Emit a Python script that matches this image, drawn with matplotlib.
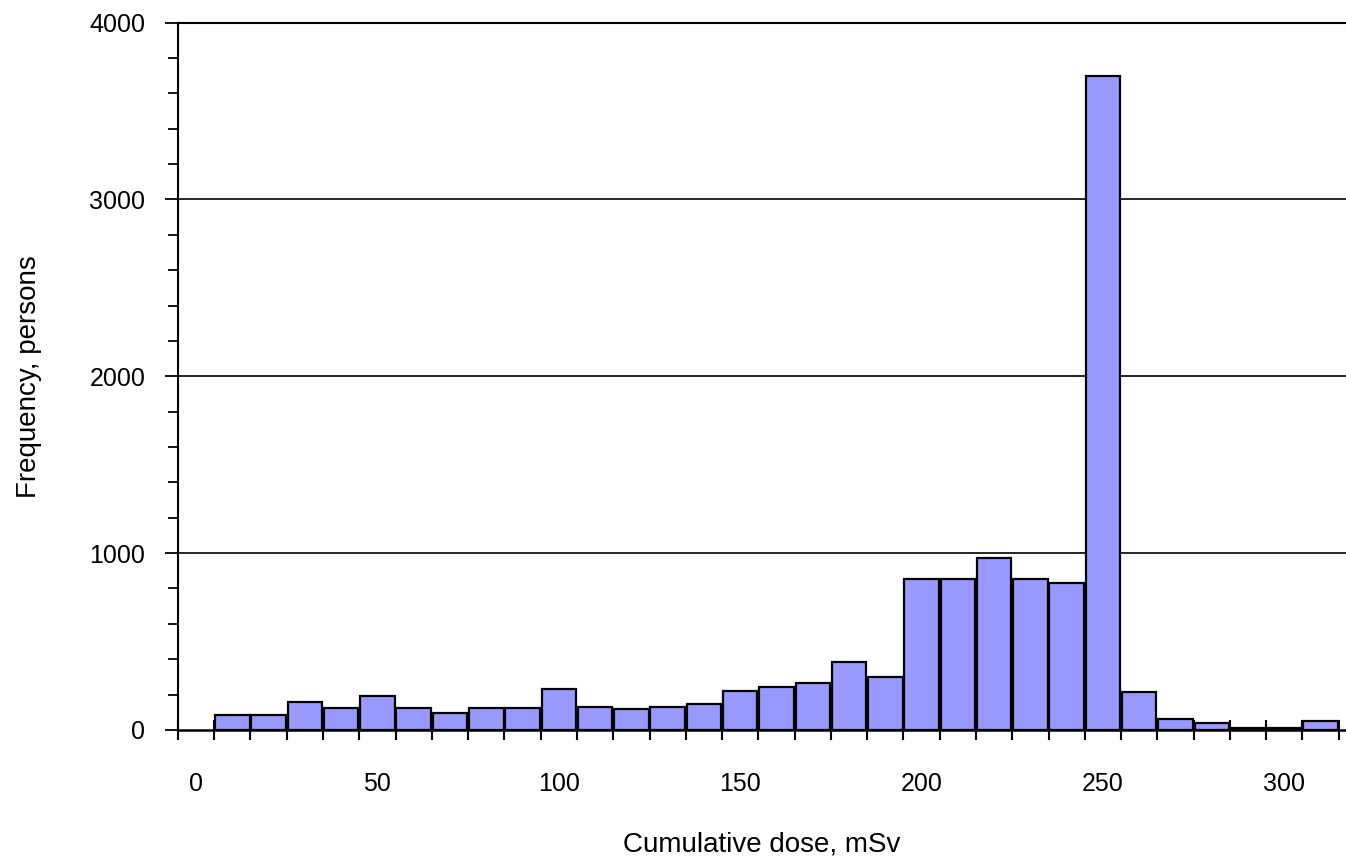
"""Histogram of cumulative dose"""

import matplotlib
matplotlib.use("Agg")
import matplotlib.pyplot as plt
import numpy as np

# bin centres (mSv) and frequencies (persons)
dose_bins = [10, 20, 30, 40, 50, 60, 70, 80, 90, 100,
             110, 120, 130, 140, 150, 160, 170, 180, 190, 200,
             210, 220, 230, 240, 250, 260, 270, 280, 290, 300, 310]
frequency = [85, 85, 158, 123, 192, 123, 98, 123, 123, 230,
             132, 120, 132, 147, 219, 241, 266, 384, 301, 854,
             854, 974, 854, 831, 3700, 216, 62, 40, 10, 10, 50]

x_ticks = [0, 50, 100, 150, 200, 250, 300]
y_ticks = [0, 1000, 2000, 3000, 4000]

plt.rcParams['font.family'] = ['Liberation Sans', 'DejaVu Sans']

fig = plt.figure(figsize=(13.46, 8.6), dpi=100)
ax = fig.add_axes([0.1322, 0.1512, 0.8678, 0.8226])

ax.bar(dose_bins, frequency, width=9.5, color="#9999ff",
       edgecolor="black", linewidth=1.6, zorder=3)

ax.set_xlim(-5, 317)
ax.set_ylim(0, 4000)

# gridlines
for y in y_ticks[1:-1]:
    ax.axhline(y, color="black", linewidth=1.2, zorder=1)

ax.spines['right'].set_visible(False)
ax.spines['top'].set_linewidth(1.5)
ax.spines['left'].set_linewidth(1.5)
ax.spines['bottom'].set_linewidth(1.8)
ax.spines['bottom'].set_zorder(4)

# x axis: labels at 0, 50, ... and marks on bin edges
ax.set_xticks(x_ticks)
ax.set_xticks(np.arange(-5, 317, 10), minor=True)
ax.tick_params(axis='x', which='major', length=0, pad=30, labelsize=18)
ax.tick_params(axis='x', which='minor', direction='inout', length=15,
               width=1.5)

# y axis
ax.set_yticks(y_ticks)
ax.set_yticks(np.arange(0, 4001, 200), minor=True)
ax.tick_params(axis='y', which='major', length=9.5, width=1.3, pad=14,
               labelsize=18)
ax.tick_params(axis='y', which='minor', length=7, width=1.3)

ax.set_xlabel('Cumulative dose, mSv', fontsize=20, labelpad=26)
ax.set_ylabel('Frequency, persons', fontsize=20, labelpad=34)

fig.savefig("out.png", dpi=100)
